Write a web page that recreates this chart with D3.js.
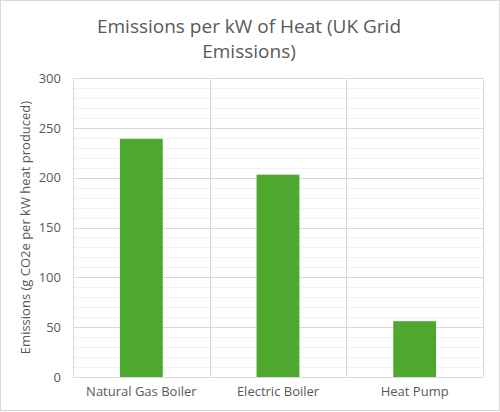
<!DOCTYPE html>
<html>
<head>
<meta charset="utf-8">
<script src="https://cdn.jsdelivr.net/npm/d3@7"></script>
<style>
  body { margin: 0; background: #fff; }
  text { font-family: "Open Sans", "Liberation Sans", sans-serif; fill: #595959; }
</style>
</head>
<body>
<div id="chart"></div>
<script>
// data
let categories = ["Natural Gas Boiler", "Electric Boiler", "Heat Pump"];
let emissions = [239, 203, 56];
let yTicks = [0, 50, 100, 150, 200, 250, 300];
let titleLines = ["Emissions per kW of Heat (UK Grid", "Emissions)"];
let yLabel = "Emissions (g CO2e per kW heat produced)";

let width = 500, height = 412;
let plotLeft = 73, plotRight = 483, plotTop = 78, plotBottom = 377;

let svg = d3.select("#chart").append("svg")
  .attr("width", width).attr("height", height);

// outer frame
svg.append("rect")
  .attr("x", 0.5).attr("y", 0.5)
  .attr("width", width - 1).attr("height", height - 2)
  .attr("fill", "#fff").attr("stroke", "#d9d9d9");

let xScale = d3.scaleBand().domain(categories).range([plotLeft, plotRight])
  .paddingInner(0).paddingOuter(0);
let yScale = d3.scaleLinear().domain([0, 300]).range([plotBottom, plotTop]);

// minor gridlines every 10
svg.append("g").selectAll("line")
  .data(d3.range(0, 301, 10).filter(function(v) { return v % 50 !== 0; }))
  .enter().append("line")
  .attr("x1", plotLeft).attr("x2", plotRight)
  .attr("y1", function(d) { return Math.round(yScale(d)) + 0.5; })
  .attr("y2", function(d) { return Math.round(yScale(d)) + 0.5; })
  .attr("stroke", "#f2f2f2");

// major gridlines
svg.append("g").selectAll("line")
  .data(yTicks)
  .enter().append("line")
  .attr("x1", plotLeft).attr("x2", plotRight)
  .attr("y1", function(d) { return Math.round(yScale(d)) + 0.5; })
  .attr("y2", function(d) { return Math.round(yScale(d)) + 0.5; })
  .attr("stroke", "#d9d9d9");

// vertical category separators
let seps = categories.map(function(c) { return xScale(c); }).concat([plotRight]);
svg.append("g").selectAll("line")
  .data(seps)
  .enter().append("line")
  .attr("x1", function(d) { return Math.round(d) + 0.5; })
  .attr("x2", function(d) { return Math.round(d) + 0.5; })
  .attr("y1", plotTop).attr("y2", plotBottom)
  .attr("stroke", "#d9d9d9");

// bars
let barW = xScale.bandwidth() / 3.19;
svg.append("g").selectAll("rect")
  .data(emissions)
  .enter().append("rect")
  .attr("x", function(d, i) { return xScale(categories[i]) + (xScale.bandwidth() - barW) / 2; })
  .attr("y", function(d) { return yScale(d); })
  .attr("width", barW)
  .attr("height", function(d) { return plotBottom - yScale(d); })
  .attr("fill", "#4ea72e");

// y axis tick labels
let yAxis = d3.axisLeft(yScale).tickValues(yTicks).tickSize(0).tickPadding(12);
let yg = svg.append("g").attr("transform", "translate(" + plotLeft + ",0)").call(yAxis);
yg.select(".domain").remove();
yg.selectAll("text").style("font-size", "13px").attr("fill", "#595959")
  .style("font-family", '"Open Sans", sans-serif');

// x axis labels
let xAxis = d3.axisBottom(xScale).tickSize(0).tickPadding(10);
let xg = svg.append("g").attr("transform", "translate(0," + plotBottom + ")").call(xAxis);
xg.select(".domain").remove();
xg.selectAll("text").style("font-size", "13px").attr("fill", "#595959")
  .style("font-family", '"Open Sans", sans-serif');

// y axis title
svg.append("text")
  .attr("transform", "translate(30," + ((plotTop + plotBottom) / 2) + ") rotate(-90)")
  .attr("text-anchor", "middle")
  .style("font-size", "13px")
  .text(yLabel);

// chart title
svg.selectAll(".title")
  .data(titleLines)
  .enter().append("text")
  .attr("class", "title")
  .attr("x", 249)
  .attr("y", function(d, i) { return 33 + i * 25; })
  .attr("text-anchor", "middle")
  .style("font-size", "19px")
  .text(function(d) { return d; });
</script>
</body>
</html>
